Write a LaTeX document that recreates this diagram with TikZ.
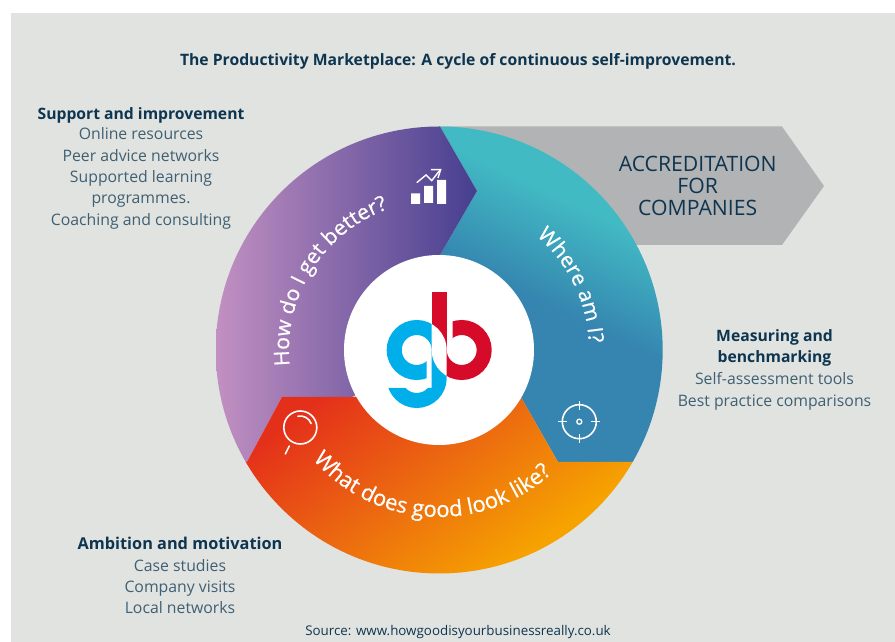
\documentclass[tikz,border=0pt]{standalone}
\usepackage{fontspec}
\setmainfont{Open Sans}
\newfontfamily\curvefam[RawFeature={embolden=0.5}]{Open Sans}
\usetikzlibrary{decorations.text}
\definecolor{bgc}{HTML}{E1E3E0}
\definecolor{greyc}{HTML}{B1B3B5}
\definecolor{headc}{HTML}{0E3550}
\definecolor{bodyc}{HTML}{3F5F73}
\definecolor{purpA}{HTML}{C290C2}
\definecolor{purpB}{HTML}{453E8F}
\definecolor{tealA}{HTML}{42BAC3}
\definecolor{tealB}{HTML}{3585B0}
\definecolor{orgA}{HTML}{E4301A}
\definecolor{orgB}{HTML}{EC6A10}
\definecolor{orgC}{HTML}{F6A300}
\definecolor{logoB}{HTML}{00AEEA}
\definecolor{logoR}{HTML}{D60B2A}
\pgfdeclareverticalshading{tealgrad}{800pt}{color(0pt)=(tealB); color(386pt)=(tealB); color(491pt)=(tealA); color(600pt)=(tealA)}
\pgfdeclarehorizontalshading{orggrad}{800pt}{color(0pt)=(orgA); color(267pt)=(orgA); color(392pt)=(orgB); color(517pt)=(orgC); color(600pt)=(orgC)}
\tikzset{
  x=1pt,y=1pt,
  body/.style={font=\fontsize{15.8}{21.3}\selectfont,text=bodyc,align=center,inner sep=0pt},
  head/.style={font=\fontsize{15.7}{21.6}\selectfont\bfseries,text=headc,align=center,inner sep=0pt},
  icon/.style={draw=white,line width=1.6pt},
  bluestroke/.style={draw=logoB,line width=15pt},
  redstroke/.style={draw=logoR,line width=15pt},
}
\newcommand{\bigdisc}{(439.2,292) circle (223.5)}
\newcommand{\curvefont}{\curvefam\fontsize{22}{22}\selectfont\color{white}}
\newcommand{\curvefontb}{\curvefam\fontsize{21.2}{22}\selectfont\color{white}}
\begin{document}
\begin{tikzpicture}
\useasboundingbox (0,0) rectangle (895,642);
\fill[bgc] (11,0) rectangle (895,629);
% arrow
\fill[greyc] (439,515.5) -- (782,515.5) -- (824,456) -- (782,397) -- (560,397) -- cycle;
% teal
\begin{scope}
\clip \bigdisc;
\clip (440,515.5) -- (477,451) -- (440,387) -- (439,292) -- (522,243) -- (558,180) -- (700,180) -- (700,520) -- (440,520) -- cycle;
\node[rotate=-25.5,inner sep=0pt,outer sep=0pt] (tealfill) at (439,292) {\pgfuseshading{tealgrad}};
\end{scope}
% purple
\begin{scope}
\clip \bigdisc;
\clip (440,515.5) -- (477,451) -- (440,387) -- (439,292) -- (352,245) -- (282,245) -- (247,180) -- (150,180) -- (150,520) -- (440,520) -- cycle;
\shade[left color=purpA,right color=purpB] (216,60) rectangle (478,520);
\end{scope}
% orange
\begin{scope}
\clip \bigdisc;
\clip (247,180) -- (282,245) -- (439,245) -- (522,243) -- (558,180) -- (700,180) -- (700,0) -- (150,0) -- (150,180) -- cycle;
\node[rotate=-53,inner sep=0pt,outer sep=0pt] (orgfill) at (439,292) {\pgfuseshading{orggrad}};
\end{scope}
% centre
\fill[white] (439,292) circle (95);
% blue stem and hook
\begin{scope}
\clip (431.7,300) rectangle (460,250) (416.7,254) rectangle (460,200) (380,200) rectangle (416.7,254);
\draw[bluestroke] (439.2,300) -- (439.2,264) arc (0:-180:22.5);
\end{scope}
\fill[white] (461.7,292) circle (30);
% red stem
\fill[logoR] (431.7,350.3) rectangle (446.7,292);
\begin{scope}
\clip (431.7,292) rectangle (450,330);
\fill[white] (416.7,292) circle (30);
\end{scope}
% g bowl
\begin{scope}
\clip (380,292) rectangle (431.7,330) (380,250) rectangle (426.7,292);
\draw[bluestroke] (416.7,292) circle (22.5);
\end{scope}
% b bowl
\begin{scope}
\clip (446.7,292) rectangle (500,250) (452.7,292) rectangle (500,330);
\draw[redstroke] (461.7,292) circle (22.5);
\end{scope}
% curved texts
\path[decorate,decoration={text along path,text align=left,text={|\curvefontb|How do I get better?}}] (439,292) ++(186:150) arc (186:95:150);
\path[decorate,decoration={text along path,text align=left,text={|\curvefontb|Where am I?}}] (439,292) ++(49.5:150) arc (49.5:-20:150);
\path[decorate,decoration={text along path,text align=left,text={|\curvefont|What does good look like?}}] (439,292) ++(221:167) arc (221:325:167);
% chart icon
\fill[white] (411,438) rectangle (420,448.7) (424,439) rectangle (433,456) (437,438) rectangle (446,462);
\draw[icon,line width=1.4pt] (416.7,459.3) -- (426,467) -- (431.7,461.3) -- (440,472);
\draw[icon,line width=1.4pt] (431,472.3) -- (440.7,472.5) -- (438,464);
% target icon
\draw[icon] (579.3,220.3) circle (17);
\draw[icon,line width=1.3pt] (579.3,220.3) circle (2.5);
\draw[icon] (558.3,220.3) -- (567.3,220.3) (591.3,220.3) -- (600.3,220.3) (579.3,199.3) -- (579.3,208.3) (579.3,232.3) -- (579.3,241.3);
% magnifier icon
\draw[icon] (300.3,214.5) circle (16.5);
\draw[icon,line cap=round] (300.3,214.5) ++(102:11.5) arc (102:20:11.5);
\draw[icon,line cap=round] (289.3,196) -- (285.3,188);
% texts
\node[font=\fontsize{15.72}{20}\selectfont\bfseries,text=headc,inner sep=0pt] (title) at (458,581) {The Productivity Marketplace: A cycle of continuous self-improvement.};
\node[font=\fontsize{21.2}{22}\selectfont,text=headc,align=center,inner sep=0pt] (accr) at (697.7,456) {ACCREDITATION\\FOR\\COMPANIES};
\node[head] (h1) at (141,527) {Support and improvement};
\node[body] (b1) at (141,463.5) {Online resources\\Peer advice networks\\Supported learning\\programmes.\\Coaching and consulting};
\node[head] (h2) at (774.5,294) {Measuring and\\benchmarking};
\node[body] (b2) at (774.5,250.5) {Self-assessment tools\\Best practice comparisons};
\node[head,font=\fontsize{16.3}{21.6}\selectfont\bfseries] (h3) at (180,98.5) {Ambition and motivation};
\node[body] (b3) at (180,55.5) {Case studies\\Company visits\\Local networks};
\node[font=\fontsize{13.35}{15}\selectfont,text=headc,inner sep=0pt] (src) at (458,9.5) {Source: www.howgoodisyourbusinessreally.co.uk};
\end{tikzpicture}
\end{document}
